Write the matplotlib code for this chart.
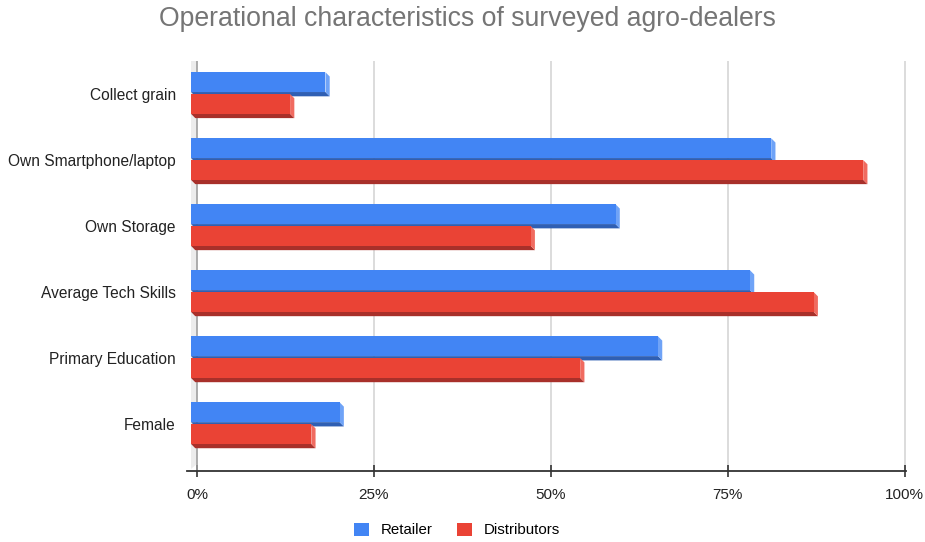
import matplotlib
matplotlib.use("Agg")
import matplotlib.pyplot as plt
from matplotlib.patches import Polygon, Patch

plt.rcParams['font.family'] = ['Liberation Sans', 'DejaVu Sans']

categories = ["Collect grain", "Own Smartphone/laptop", "Own Storage",
              "Average Tech Skills", "Primary Education", "Female"]
retailer = [19, 82, 60, 79, 66, 21]
distributors = [14, 95, 48, 88, 55, 17]
xticks = [0, 25, 50, 75, 100]
xticklabels = ["0%", "25%", "50%", "75%", "100%"]

BLUE = "#4285f4"
BLUE_DARK = "#2f5fb3"
BLUE_SIDE = "#6fa3f7"
RED = "#ea4335"
RED_DARK = "#a8302a"
RED_SIDE = "#f06b60"

fig = plt.figure(figsize=(9.25, 5.42), dpi=100)
W, H = 925, 542
ax = fig.add_axes([187 / W, 1 - 471 / H, (906 - 187) / W, (471 - 61) / H])
ax.set_xlim(-1.42, 100.2)
ax.set_ylim(5.71, -0.5)

# pseudo-3D offsets (front face shifted left, depth goes right/down)
x_off = -0.85
dx = 0.6
dy = 0.065
h = 0.30


def bar3d(y_top, value, face, dark, side):
    x0 = x_off
    x1 = x_off + value
    yb = y_top + h
    ax.add_patch(Polygon([(x0, yb), (x1, yb), (x1 + dx, yb + dy), (x0 + dx, yb + dy)],
                         closed=True, facecolor=dark, edgecolor="none", zorder=3))
    ax.add_patch(Polygon([(x1, y_top), (x1 + dx, y_top + dy), (x1 + dx, yb + dy), (x1, yb)],
                         closed=True, facecolor=side, edgecolor="none", zorder=3))
    ax.barh(y_top + h / 2, value, height=h, left=x0, color=face, zorder=4)


for i in range(len(categories)):
    bar3d(i - 0.33, retailer[i], BLUE, BLUE_DARK, BLUE_SIDE)
    bar3d(i, distributors[i], RED, RED_DARK, RED_SIDE)

# left wall
ax.add_patch(Polygon([(-0.85, -0.5), (0, -0.5), (0, 5.6), (-0.85, 5.68)],
                     closed=True, facecolor="#ececec", edgecolor="none", zorder=1))

for t in xticks[1:]:
    ax.axvline(t, color="#d6d6d6", lw=1.2, zorder=0)
ax.axvline(0, color="#9e9e9e", lw=1.2, zorder=2)

ax.set_yticks(range(len(categories)))
ax.set_yticklabels(categories, fontsize=11.2, color="#222222")
ax.set_xticks(xticks)
ax.set_xticklabels(xticklabels, fontsize=11, color="#222222")
ax.tick_params(axis="y", length=0, pad=8)
ax.tick_params(axis="x", direction="inout", length=9, width=1.2, color="#333333", pad=8)

for s in ["top", "right", "left"]:
    ax.spines[s].set_visible(False)
ax.spines["bottom"].set_color("#333333")
ax.spines["bottom"].set_linewidth(1.3)

fig.text(467 / W, 1 - 19 / H, "Operational characteristics of surveyed agro-dealers",
         ha="center", va="center", fontsize=19.2, color="#757575")

handles = [Patch(facecolor=BLUE, label="Retailer"), Patch(facecolor=RED, label="Distributors")]
fig.legend(handles=handles, loc="center", bbox_to_anchor=(457 / W, 1 - 530 / H), ncol=2,
           frameon=False, fontsize=10.8, handlelength=1.0, handleheight=1.0,
           columnspacing=1.6, handletextpad=0.8)

fig.savefig("out.png", dpi=100)
